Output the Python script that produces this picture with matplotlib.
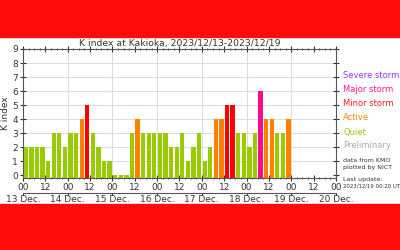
import matplotlib.pyplot as plt
import matplotlib.patches as mpatches
import numpy as np

# 3-hourly K index, 2023/12/13 00UT .. 2023/12/18 21UT (12/19 not yet in)
k_values = [2, 2, 2, 2, 1, 3, 3, 2,
            3, 3, 4, 5, 3, 2, 1, 1,
            0, 0, 0, 3, 4, 3, 3, 3,
            3, 3, 2, 2, 3, 1, 2, 3,
            1, 2, 4, 4, 5, 5, 3, 3,
            2, 3, 6, 4, 4, 3, 3, 4]
day_labels = ['13 Dec.', '14 Dec.', '15 Dec.', '16 Dec.', '17 Dec.', '18 Dec.', '19 Dec.', '20 Dec.']
legend_names = ['Severe storm', 'Major storm', 'Minor storm', 'Active', 'Quiet', 'Preliminary']
legend_colors = ['#9933ff', '#ff1493', '#ff2020', '#ff8800', '#99cc00', '#aaaaaa']


def k_color(k):
    if k >= 7:
        return '#9933ff'
    if k == 6:
        return '#ff0a8c'
    if k == 5:
        return '#ff0000'
    if k == 4:
        return '#ff8000'
    return '#99cc00'


fig = plt.figure(figsize=(4, 2.5), dpi=100)
# red bands of the screenshot frame
fig.patches.append(mpatches.Rectangle((0, 1 - 37 / 250), 1, 37 / 250, transform=fig.transFigure,
                                      color='#fe0b0b', zorder=10))
fig.patches.append(mpatches.Rectangle((0, 0), 1, 46 / 250, transform=fig.transFigure,
                                      color='#fe0b0b', zorder=10))

ax = fig.add_axes([23 / 400, 1 - 178 / 250, 313 / 400, 129 / 250])
ybot = -0.2
hours = np.arange(len(k_values)) * 3 + 1.5
ax.bar(hours, np.array(k_values) - ybot, bottom=ybot, width=2.3,
       color=[k_color(k) for k in k_values], zorder=3)

ax.set_xlim(0, 168)
ax.set_ylim(ybot, 9)
ax.set_yticks(range(10))
ax.set_xticks(np.arange(0, 169, 12))
ax.set_xticklabels(['00', '12'] * 7 + ['00'])
ax.set_xticks(np.arange(0, 169, 3), minor=True)
ax.tick_params(axis='both', which='both', direction='inout', top=True, right=True,
               labelsize=6.5, colors='#333333', pad=1.5)
ax.tick_params(which='major', length=4)
ax.tick_params(which='minor', length=2)
for x in range(24, 168, 24):
    ax.axvline(x, color='#dddddd', lw=0.8, zorder=1)
for y in range(1, 9):
    ax.axhline(y, color='#dddddd', lw=0.8, zorder=1)
for s in ax.spines.values():
    s.set_color('#555555')
    s.set_linewidth(0.8)
ax.set_ylabel('K index', fontsize=6.5, color='#333333', labelpad=2)
ax.set_title('K index at Kakioka, 2023/12/13-2023/12/19', fontsize=6.7, color='#333333', pad=2)

sec = ax.secondary_xaxis(-0.115)
sec.set_xticks(np.arange(0, 169, 24))
sec.set_xticklabels(day_labels)
sec.tick_params(labelsize=6.5, colors='#333333', length=1.5, pad=0.3)
sec.spines['bottom'].set_color('#555555')

ty = [76, 90, 104, 118, 132, 146]
for name, c, y in zip(legend_names, legend_colors, ty):
    fig.text(343 / 400, 1 - y / 250, name, color=c, fontsize=6.0, va='center')
fig.text(343 / 400, 1 - 160.5 / 250, 'data from KMO', color='#333333', fontsize=4.5, va='center')
fig.text(343 / 400, 1 - 167.5 / 250, 'plotted by NICT', color='#333333', fontsize=4.5, va='center')
fig.text(343 / 400, 1 - 179 / 250, 'Last update:', color='#333333', fontsize=4.5, va='center')
fig.text(343 / 400, 1 - 186 / 250, '2023/12/19 00:20 UT', color='#333333', fontsize=3.9, va='center')

fig.savefig('out.png', dpi=100)
